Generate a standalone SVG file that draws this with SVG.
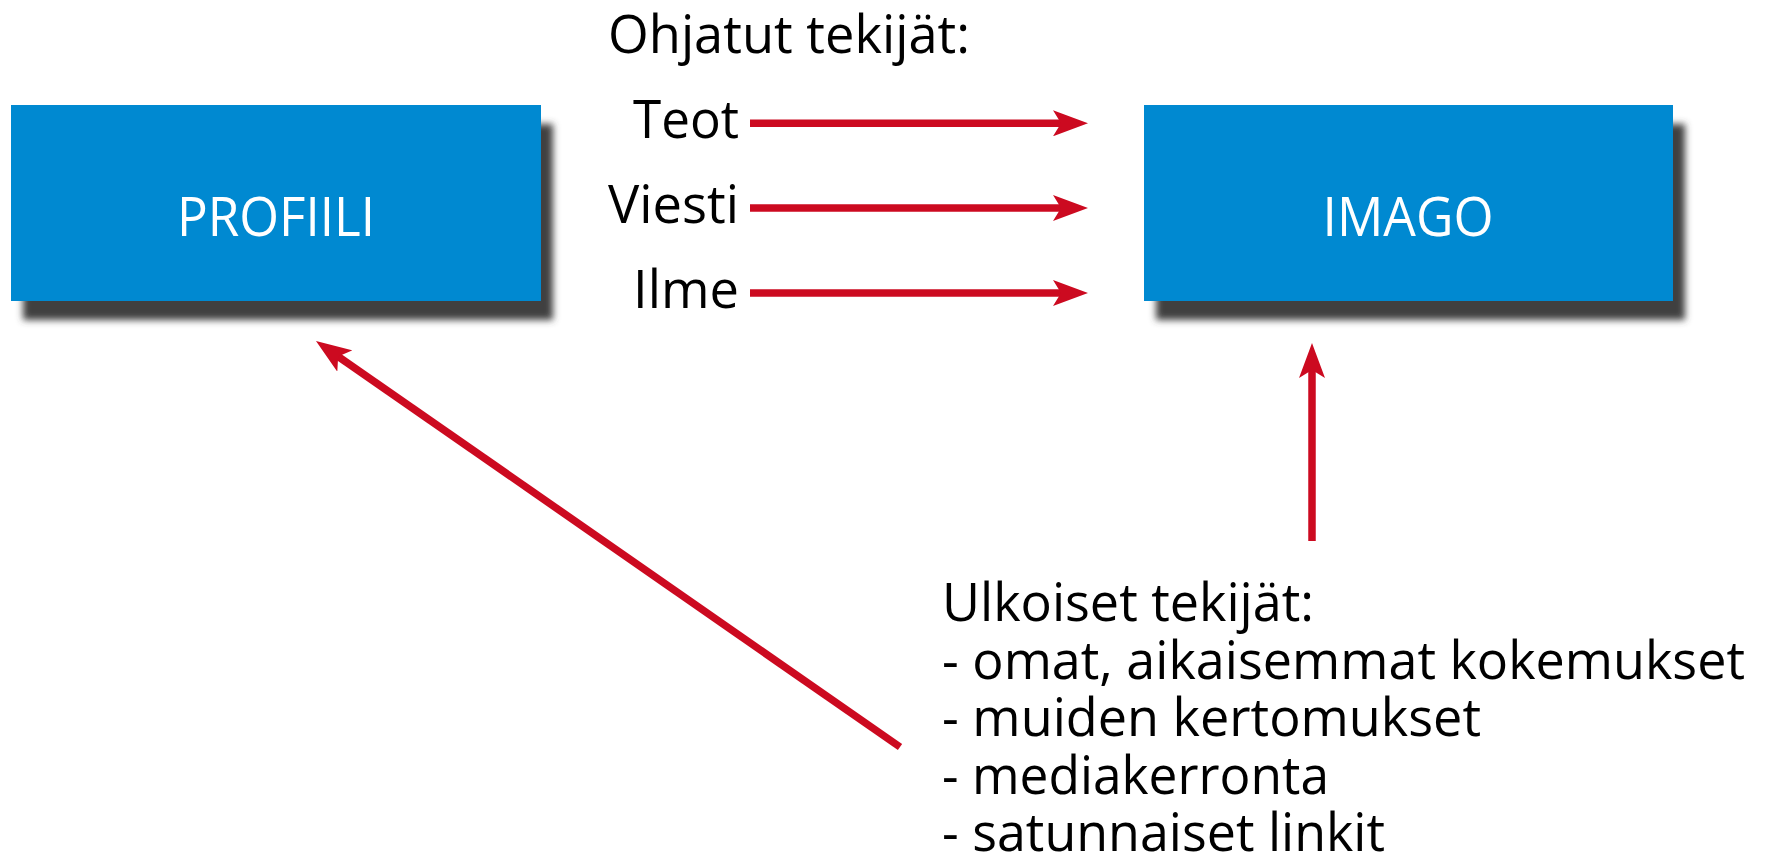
<svg xmlns="http://www.w3.org/2000/svg" width="1769" height="860" viewBox="0 0 1769 860">
<style>
.box{fill:#0089d1;}
.lbl{font-family:"Open Sans","Liberation Sans",sans-serif;font-size:53px;fill:#000;}
.boxlbl{font-family:"Open Sans","Liberation Sans",sans-serif;font-size:54px;fill:#fff;text-anchor:middle;}
.arr{stroke:#cc0a20;stroke-width:7.5;fill:none;stroke-linecap:butt;marker-end:url(#head);}
</style>
<defs>
<filter id="shadow" x="-10%" y="-20%" width="130%" height="160%">
<feGaussianBlur in="SourceAlpha" stdDeviation="3.5"/>
<feOffset dx="12" dy="19" result="b"/>
<feFlood flood-color="#404040"/>
<feComposite in2="b" operator="in" result="s"/>
<feMerge><feMergeNode in="s"/><feMergeNode in="SourceGraphic"/></feMerge>
</filter>
<marker id="head" markerUnits="userSpaceOnUse" viewBox="0 0 36 26" markerWidth="36" markerHeight="26" refX="10" refY="13" orient="auto">
<path d="M0,0 L35,13 L0,26 L8,13 Z" fill="#cc0a20"/>
</marker>
</defs>
<rect width="1769" height="860" fill="#fff"/>
<g id="profiili">
<rect class="box" x="11" y="105" width="530" height="196" filter="url(#shadow)"/>
<text class="boxlbl" x="276" y="236" textLength="198" lengthAdjust="spacingAndGlyphs">PROFIILI</text>
</g>
<g id="imago">
<rect class="box" x="1144" y="105" width="529" height="196" filter="url(#shadow)"/>
<text class="boxlbl" x="1408" y="236" textLength="171" lengthAdjust="spacingAndGlyphs">IMAGO</text>
</g>
<g id="ohjatut">
<text class="lbl" x="608" y="53" textLength="362" lengthAdjust="spacingAndGlyphs">Ohjatut tekijät:</text>
<text class="lbl" x="633" y="138" textLength="106" lengthAdjust="spacingAndGlyphs">Teot</text>
<text class="lbl" x="608" y="223" textLength="131" lengthAdjust="spacingAndGlyphs">Viesti</text>
<text class="lbl" x="633" y="308" textLength="106" lengthAdjust="spacingAndGlyphs">Ilme</text>
</g>
<g id="ulkoiset">
<text class="lbl" x="942" y="621" textLength="372" lengthAdjust="spacingAndGlyphs">Ulkoiset tekijät:</text>
<text class="lbl" x="942" y="678.5" textLength="803" lengthAdjust="spacingAndGlyphs">- omat, aikaisemmat kokemukset</text>
<text class="lbl" x="942" y="736" textLength="539" lengthAdjust="spacingAndGlyphs">- muiden kertomukset</text>
<text class="lbl" x="942" y="793.5" textLength="387" lengthAdjust="spacingAndGlyphs">- mediakerronta</text>
<text class="lbl" x="942" y="851" textLength="443" lengthAdjust="spacingAndGlyphs">- satunnaiset linkit</text>
</g>
<g id="connectors">
<line class="arr" x1="750" y1="123.3" x2="1063" y2="123.3"/>
<line class="arr" x1="750" y1="208" x2="1063" y2="208"/>
<line class="arr" x1="750" y1="293" x2="1063" y2="293"/>
<line class="arr" x1="1312" y1="541" x2="1312" y2="368"/>
<line class="arr" x1="900" y1="747" x2="336.5" y2="355.3"/>
</g>
</svg>
